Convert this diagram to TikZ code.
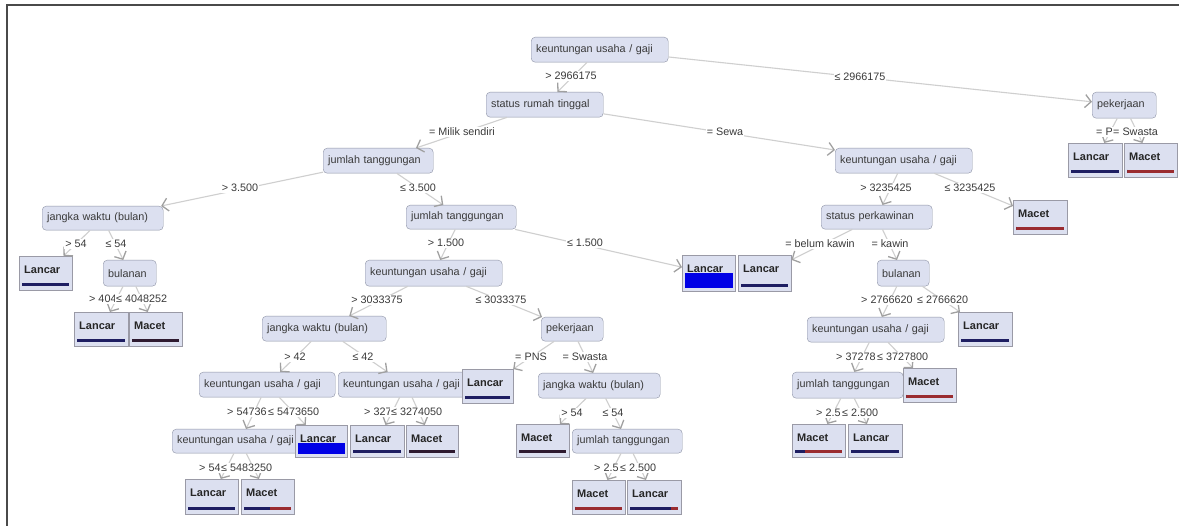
\documentclass[tikz,border=0pt]{standalone}
\usepackage{fontspec}
\setmainfont{Liberation Sans}
\usetikzlibrary{arrows.meta,calc}
\definecolor{nodefill}{HTML}{DCE0F0}
\definecolor{nodeborder}{HTML}{8E93A6}
\definecolor{leaffill}{HTML}{DCE0F0}
\definecolor{leafborder}{HTML}{9A9AA6}
\definecolor{edgecol}{HTML}{CFCFCF}
\definecolor{tipcol}{HTML}{A0A0A0}
\definecolor{txtcol}{HTML}{3A3A3A}
\definecolor{barnavy}{HTML}{1E1E62}
\definecolor{barred}{HTML}{9A2C30}
\definecolor{bardark}{HTML}{2E1A30}
\definecolor{barblue}{HTML}{0000E6}
\definecolor{framecol}{HTML}{4A4A4A}
\newcommand{\nodefnt}{\fontsize{10.8}{12}\selectfont}
\newcommand{\leaffnt}{\fontsize{11}{13}\selectfont\bfseries}
\tikzset{
  inner/.style={draw=nodeborder, fill=nodefill, rounded corners=4pt, anchor=north west,
    minimum height=25pt, inner xsep=5pt, inner ysep=0pt, align=left, font=\nodefnt, text=txtcol},
  leaf/.style={draw=leafborder, fill=leaffill, anchor=north west, text width=43pt,
    inner xsep=5pt, inner ysep=3pt, text height=14pt, text depth=14pt, align=left,
    font=\leaffnt, text=black!85},
  bar/.style={path picture={
    \path ([xshift=3pt,yshift=4pt]path picture bounding box.south west) coordinate (bl)
          ([xshift=-3pt,yshift=4pt]path picture bounding box.south east) coordinate (br);
    \fill[barred] (bl) rectangle ([yshift=3.5pt]br);
    \fill[barnavy] (bl) rectangle ([yshift=3.5pt]$(bl)!#1!(br)$);
  }},
  solidbar/.style={path picture={
    \fill[#1] ([xshift=3pt,yshift=4pt]path picture bounding box.south west)
      rectangle ([xshift=-3pt,yshift=7.5pt]path picture bounding box.south east);
  }},
  bigblue/.style={path picture={
    \fill[barblue] ([xshift=2.5pt,yshift=3pt]path picture bounding box.south west)
      rectangle ([xshift=-2.5pt,yshift=#1]path picture bounding box.south east);
  }},
  edge/.style={draw=edgecol, line width=1.1pt,
    -{Straight Barb[length=6pt,width=13pt,line width=1.3pt,color=tipcol]}},
  lab/.style={fill=white, inner sep=1pt, font=\nodefnt, text=txtcol},
}
\begin{document}
\begin{tikzpicture}[x=1pt,y=-1pt]
\useasboundingbox (0,0) rectangle (1179,526);
\fill[white] (0,0) rectangle (1179,526);
\draw[framecol, line width=1.6pt] (7,526) -- (7,5) -- (1179,5);

% inner nodes
\node[inner, text width=127pt] (root) at (531,37) {keuntungan usaha / gaji};
\node[inner, text width=107pt] (srt) at (486,92) {status rumah tinggal};
\node[inner, text width=54pt, minimum height=26pt] (pk1) at (1092,92) {pekerjaan};
\node[inner, text width=100pt] (jt1) at (323,148) {jumlah tanggungan};
\node[inner, text width=127pt] (ku2) at (835,148) {keuntungan usaha / gaji};
\node[inner, text width=111pt, minimum height=24pt] (jw1) at (42,206) {jangka waktu (bulan)};
\node[inner, text width=100pt, minimum height=24pt] (jt2) at (406,205) {jumlah tanggungan};
\node[inner, text width=101pt, minimum height=24pt] (sp) at (821,205) {status perkawinan};
\node[inner, text width=43pt, minimum height=26pt] (bul1) at (103,260) {bulanan};
\node[inner, text width=127pt, minimum height=26pt] (ku3) at (365,260) {keuntungan usaha / gaji};
\node[inner, text width=42pt, minimum height=26pt] (bul2) at (877,260) {bulanan};
\node[inner, text width=114pt] (jw2) at (262,316) {jangka waktu (bulan)};
\node[inner, text width=52pt, minimum height=24pt] (pk2) at (541,317) {pekerjaan};
\node[inner, text width=127pt] (ku7) at (807,317) {keuntungan usaha / gaji};
\node[inner, text width=126pt] (ku4) at (199,372) {keuntungan usaha / gaji};
\node[inner, text width=126pt] (ku5) at (338,372) {keuntungan usaha / gaji};
\node[inner, text width=112pt] (jw3) at (538,373) {jangka waktu (bulan)};
\node[inner, text width=101pt, minimum height=26pt] (jt4) at (792,372) {jumlah tanggungan};
\node[inner, text width=126pt, minimum height=24pt] (ku6) at (172,429) {keuntungan usaha / gaji};
\node[inner, text width=100pt, minimum height=24pt] (jt3) at (572,429) {jumlah tanggungan};

% leaves
\node[leaf, bar=1, text width=44pt] (l1) at (1068,143) {Lancar};
\node[leaf, bar=0] (l2) at (1124,143) {Macet};
\node[leaf, bar=1] (l3) at (19,256) {Lancar};
\node[leaf, bar=1, text width=44pt] (l4) at (74,312) {Lancar};
\node[leaf, solidbar=bardark] (l5) at (129,312) {Macet};
\node[leaf, bigblue=18pt, text depth=16pt] (l6) at (682,255) {Lancar};
\node[leaf, bar=1, text depth=16pt] (l7) at (738,255) {Lancar};
\node[leaf, bar=0, text width=44pt] (l8) at (1013,200) {Macet};
\node[leaf, bar=1, text width=44pt] (l9) at (958,312) {Lancar};
\node[leaf, bar=0] (l10) at (903,368) {Macet};
\node[leaf, bar=0.2, text depth=13pt] (l11) at (792,424) {Macet};
\node[leaf, bar=1, text depth=13pt, text width=44pt] (l12) at (848,424) {Lancar};
\node[leaf, bar=1, text width=41pt] (l13) at (462,369) {Lancar};
\node[leaf, bigblue=14pt, text depth=12pt, text width=42pt] (l14) at (295,425) {Lancar};
\node[leaf, bar=1, text depth=12pt, text width=44pt] (l15) at (350,425) {Lancar};
\node[leaf, solidbar=bardark, text depth=12pt, text width=42pt] (l16) at (406,425) {Macet};
\node[leaf, bar=1, text depth=15pt] (l17) at (185,479) {Lancar};
\node[leaf, bar=0.55, text depth=15pt] (l18) at (241,479) {Macet};
\node[leaf, solidbar=bardark, text depth=13pt] (l19) at (516,424) {Macet};
\node[leaf, bar=0] (l20) at (572,480) {Macet};
\node[leaf, bar=0.85, text width=44pt] (l21) at (627,480) {Lancar};

% edges
\draw[edge] (root) -- (srt);
\draw[edge] (root) -- (pk1);
\draw[edge] (pk1) -- (l1);
\draw[edge] (pk1) -- (l2);
\draw[edge] (srt) -- (jt1);
\draw[edge] (srt) -- (ku2);
\draw[edge] (jt1) -- (jw1);
\draw[edge] (jt1) -- (jt2);
\draw[edge] (ku2) -- (sp);
\draw[edge] (ku2) -- (l8);
\draw[edge] (jw1) -- (l3);
\draw[edge] (jw1) -- (bul1);
\draw[edge] (jt2) -- (ku3);
\draw[edge] (jt2) -- (l6);
\draw[edge] (sp) -- (l7);
\draw[edge] (sp) -- (bul2);
\draw[edge] (bul1) -- (l4);
\draw[edge] (bul1) -- (l5);
\draw[edge] (ku3) -- (jw2);
\draw[edge] (ku3) -- (pk2);
\draw[edge] (bul2) -- (ku7);
\draw[edge] (bul2) -- (l9);
\draw[edge] (jw2) -- (ku4);
\draw[edge] (jw2) -- (ku5);
\draw[edge] (pk2) -- (l13);
\draw[edge] (pk2) -- (jw3);
\draw[edge] (ku7) -- (jt4);
\draw[edge] (ku7) -- (l10);
\draw[edge] (ku4) -- (ku6);
\draw[edge] (ku4) -- (l14);
\draw[edge] (ku5) -- (l15);
\draw[edge] (ku5) -- (l16);
\draw[edge] (jw3) -- (l19);
\draw[edge] (jw3) -- (jt3);
\draw[edge] (jt4) -- (l11);
\draw[edge] (jt4) -- (l12);
\draw[edge] (ku6) -- (l17);
\draw[edge] (ku6) -- (l18);
\draw[edge] (jt3) -- (l20);
\draw[edge] (jt3) -- (l21);

% edge labels
\node[lab] (la) at (571,76) {> 2966175};
\node[lab] (lb) at (860,77) {≤ 2966175};
\node[lab, anchor=west] (lc) at (1095,132) {= P};
\node[lab, anchor=west] (ld) at (1112,132) {= Swasta};
\node[lab] (le) at (462,132) {= Milik sendiri};
\node[lab] (lf) at (725,132) {= Sewa};
\node[lab] (lg) at (240,188) {> 3.500};
\node[lab] (lh) at (418,188) {≤ 3.500};
\node[lab] (li) at (886,188) {> 3235425};
\node[lab] (lj) at (970,188) {≤ 3235425};
\node[lab] (lk) at (76,244) {> 54};
\node[lab] (ll) at (116,244) {≤ 54};
\node[lab] (lm) at (446,243) {> 1.500};
\node[lab] (ln) at (585,243) {≤ 1.500};
\node[lab] (lo) at (820,244) {= belum kawin};
\node[lab] (lp) at (890,244) {= kawin};
\node[lab, anchor=west] (lq) at (88,299) {> 404};
\node[lab, anchor=west] (lr) at (115,299) {≤ 4048252};
\node[lab] (ls) at (377,300) {> 3033375};
\node[lab] (lt) at (501,300) {≤ 3033375};
\node[lab, anchor=west] (lu) at (860,300) {> 2766620};
\node[lab, anchor=west] (lv) at (916,300) {≤ 2766620};
\node[lab] (lw) at (295,357) {> 42};
\node[lab] (lx) at (363,357) {≤ 42};
\node[lab] (ly) at (531,357) {= PNS};
\node[lab] (lz) at (585,357) {= Swasta};
\node[lab, anchor=west] (ma) at (835,357) {> 37278};
\node[lab, anchor=west] (mb) at (876,357) {≤ 3727800};
\node[lab, anchor=west] (mc) at (226,412) {> 54736};
\node[lab, anchor=west] (md) at (267,412) {≤ 5473650};
\node[lab, anchor=west] (me) at (363,412) {> 327};
\node[lab, anchor=west] (mf) at (390,412) {≤ 3274050};
\node[lab] (mg) at (572,413) {> 54};
\node[lab] (mh) at (613,413) {≤ 54};
\node[lab, anchor=west] (mi) at (815,413) {> 2.5};
\node[lab, anchor=west] (mj) at (841,413) {≤ 2.500};
\node[lab, anchor=west] (mk) at (198,468) {> 54};
\node[lab, anchor=west] (ml) at (220,468) {≤ 5483250};
\node[lab, anchor=west] (mm) at (593,468) {> 2.5};
\node[lab, anchor=west] (mn) at (619,468) {≤ 2.500};
\end{tikzpicture}
\end{document}
